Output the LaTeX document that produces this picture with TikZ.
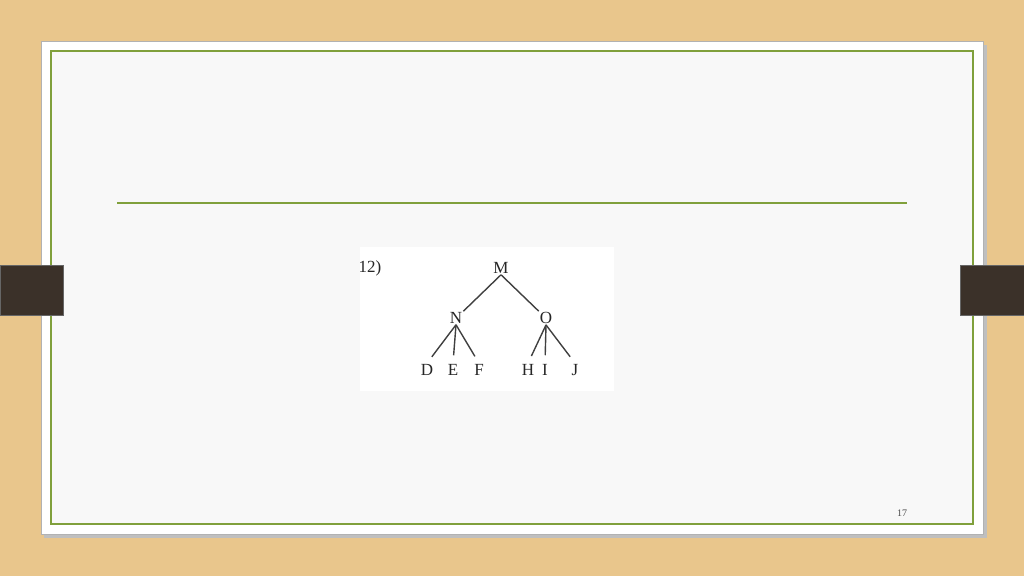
\documentclass[tikz,border=0pt]{standalone}
\usepackage{fontspec}
\setmainfont{Liberation Serif}
\usetikzlibrary{positioning}

\definecolor{wood}{RGB}{233,198,140}
\definecolor{slidegreen}{RGB}{128,160,60}
\definecolor{tabbrown}{RGB}{59,49,41}
\definecolor{panel}{RGB}{248,248,248}

\begin{document}
\begin{tikzpicture}[x=1pt, y=-1pt]
  \tikzstyle{letter}=[inner sep = 1pt, text = black!85, font = \fontsize{17}{17}\selectfont]
  \tikzstyle{branch}=[line width = 1.4pt, black!75]
  \tikzstyle{tab}=[fill = tabbrown, draw = black!60, thin]

  \useasboundingbox (0,0) rectangle (1024,576);
  \fill[wood] (0,0) rectangle (1024,576);
  \fill[black!25] (44,45) rectangle (987,538);
  \fill[white, draw = black!30, thin] (41,41) rectangle (983,534);
  \fill[panel, draw = slidegreen, line width = 1.5pt] (51,51) rectangle (973,524);
  \draw[slidegreen, line width = 1.5pt] (117,203) -- (907,203);

  \draw[tab] (0,265) rectangle (63,315);
  \draw[tab] (960,265) rectangle (1024,315);

  % picture area
  \fill[white] (360,247) rectangle (614,391);
  \node[letter] (label) at (370,268) {12)};

  \foreach \name/\x/\y in {M/501/268, N/456/318, O/546/318}
    \node[letter] (\name) at (\x,\y) {\name};
  \foreach \name/\x in {D/427, E/453, F/479, H/528, I/545, J/575}
    \node[letter] (\name) at (\x,370) {\name};

  \draw[branch] (M.south) -- (N.north east);
  \draw[branch] (M.south) -- (O.north west);
  \foreach \parent/\child in {N/D, N/E, N/F, O/H, O/I, O/J}
    \draw[branch, shorten > = 8pt] (\parent.south) -- (\child.north);

  \node[font = \fontsize{10}{10}\selectfont, text = black!70] (page) at (902,513) {17};
\end{tikzpicture}
\end{document}
